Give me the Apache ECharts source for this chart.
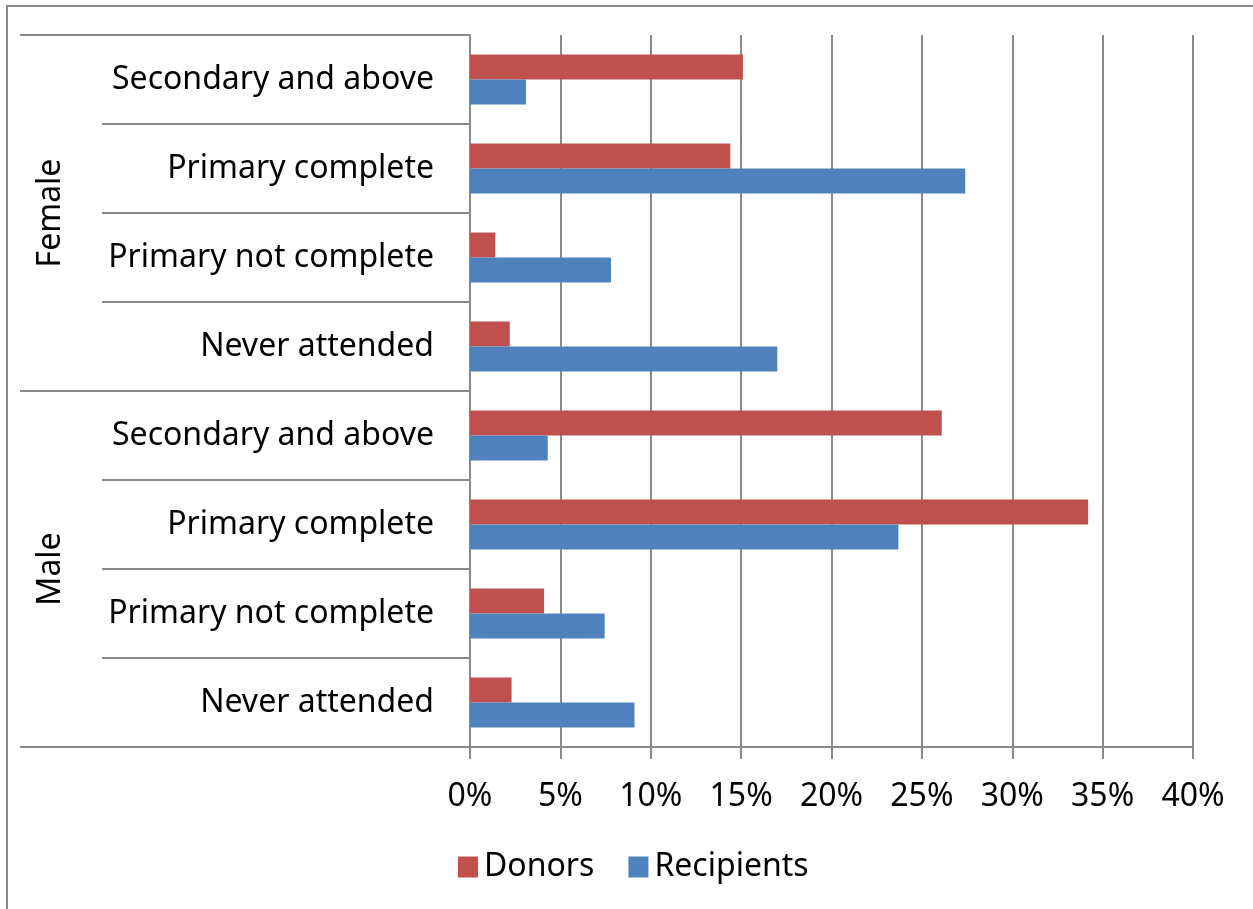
<!DOCTYPE html>
<html>
<head>
<meta charset="utf-8">
<script src="https://cdn.jsdelivr.net/npm/echarts@6/dist/echarts.min.js"></script>
<style>
  html, body { margin: 0; padding: 0; background: #fff; }
  #main { position: absolute; left: 0; top: 0; width: 1253px; height: 909px; }
  #frame { position: absolute; left: 6px; top: 5px; width: 1260px; height: 920px;
           border-left: 2px solid #888; border-top: 2px solid #888; pointer-events: none; }
</style>
</head>
<body>
<div id="main"></div>
<div id="frame"></div>
<script>
// categories, top to bottom
var groups = ["Female", "Male"];
var levels = [
  "Secondary and above", "Primary complete", "Primary not complete", "Never attended",
  "Secondary and above", "Primary complete", "Primary not complete", "Never attended"
];
// percent values
var donors     = [15.1, 14.4, 1.4, 2.2, 26.1, 34.2, 4.1, 2.3];
var recipients = [3.1, 27.4, 7.8, 17.0, 4.3, 23.7, 7.45, 9.1];
var xTicks = [0, 5, 10, 15, 20, 25, 30, 35, 40];

var gray = '#8a8a8a';
var font = 'Noto Sans';

var myChart = echarts.init(document.getElementById('main'));
var option = {
  animation: false,
  textStyle: { fontFamily: font },
  grid: { left: 470, right: 60, top: 35, bottom: 162 },
  legend: {
    left: 453, top: 846,
    icon: 'rect', itemWidth: 20, itemHeight: 21, itemGap: 34,
    textStyle: { fontFamily: font, fontSize: 32, color: '#000', padding: [0, 0, 0, 1] },
    data: ['Donors', 'Recipients']
  },
  xAxis: {
    type: 'value', min: xTicks[0], max: xTicks[xTicks.length - 1], interval: 5,
    axisLine: { show: true, lineStyle: { color: gray, width: 2 } },
    axisTick: { show: true, length: 12, lineStyle: { color: gray, width: 2 } },
    axisLabel: { formatter: '{value}%', fontSize: 32, color: '#000', margin: 34, fontFamily: font },
    splitLine: { show: true, lineStyle: { color: gray, width: 2 } }
  },
  yAxis: [{
    type: 'category', inverse: true, data: levels, offset: 0,
    axisLine: { show: true, lineStyle: { color: gray, width: 2 } },
    axisTick: { show: true, length: 368, lineStyle: { color: gray, width: 2 } },
    axisLabel: { fontSize: 32, color: '#000', margin: 36, fontFamily: font }
  }, {
    type: 'category', inverse: true, data: groups, position: 'left', offset: 0,
    axisLine: { show: false },
    axisTick: { show: true, length: 450, lineStyle: { color: gray, width: 2 } },
    axisLabel: { fontSize: 32, color: '#000', rotate: 90, margin: 403, fontFamily: font }
  }],
  series: [{
    name: 'Donors', type: 'bar', yAxisIndex: 0, data: donors,
    barWidth: 25, barGap: '0%',
    itemStyle: { color: '#C0504D' }
  }, {
    name: 'Recipients', type: 'bar', yAxisIndex: 0, data: recipients,
    barWidth: 25, barGap: '0%',
    itemStyle: { color: '#4F81BD' }
  }]
};
myChart.setOption(option);
</script>
</body>
</html>
